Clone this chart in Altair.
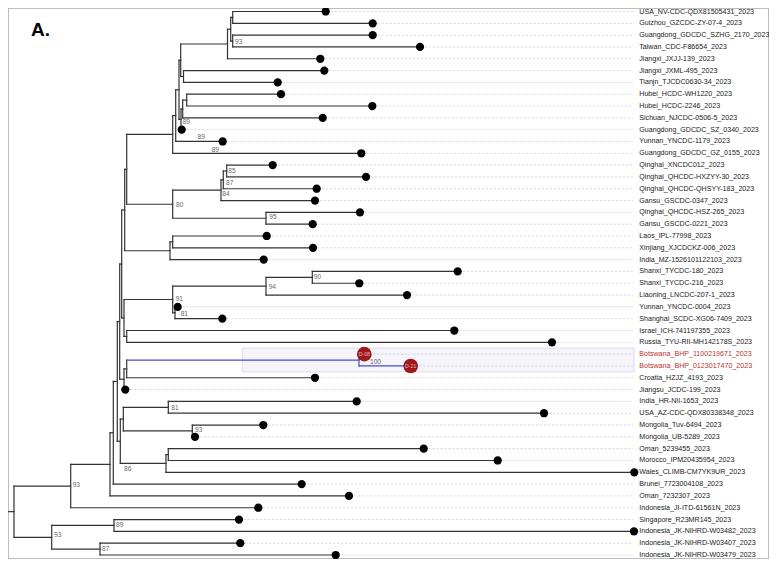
import altair as alt
import pandas as pd

# ---------------- data ----------------
tip_names = [
    "USA_NV-CDC-QDX81505431_2023", "Guizhou_GZCDC-ZY-07-4_2023", "Guangdong_GDCDC_SZHG_2170_2023",
    "Taiwan_CDC-F86654_2023", "Jiangxi_JXJJ-139_2023", "Jiangxi_JXML-495_2023", "Tianjn_TJCDC0630-34_2023",
    "Hubei_HCDC-WH1220_2023", "Hubei_HCDC-2246_2023", "Sichuan_NJCDC-0506-5_2023",
    "Guangdong_GDCDC_SZ_0340_2023", "Yunnan_YNCDC-1179_2023", "Guangdong_GDCDC_GZ_0155_2023",
    "Qinghai_XNCDC012_2023", "Qinghai_QHCDC-HXZYY-30_2023", "Qinghai_QHCDC-QHSYY-183_2023",
    "Gansu_GSCDC-0347_2023", "Qinghai_QHCDC-HSZ-265_2023", "Gansu_GSCDC-0221_2023", "Laos_IPL-77998_2023",
    "Xinjiang_XJCDCKZ-006_2023", "India_MZ-1526101122103_2023", "Shanxi_TYCDC-180_2023",
    "Shanxi_TYCDC-216_2023", "Liaoning_LNCDC-207-1_2023", "Yunnan_YNCDC-0004_2023",
    "Shanghai_SCDC-XG06-7409_2023", "Israel_ICH-741197355_2023", "Russia_TYU-RII-MH142178S_2023",
    "Botswana_BHP_1100219671_2023", "Botswana_BHP_0123017470_2023", "Croatia_HZJZ_4193_2023",
    "Jiangsu_JCDC-199_2023", "India_HR-NII-1653_2023", "USA_AZ-CDC-QDX80338348_2023",
    "Mongolia_Tuv-6494_2023", "Mongolia_UB-5289_2023", "Oman_5239455_2023", "Morocco_IPM20435954_2023",
    "Wales_CLIMB-CM7YK9UR_2023", "Brunei_7723004108_2023", "Oman_7232307_2023",
    "Indonesia_JI-ITD-61561N_2023", "Singapore_R23MR145_2023", "Indonesia_JK-NIHRD-W03482_2023",
    "Indonesia_JK-NIHRD-W03407_2023", "Indonesia_JK-NIHRD-W03479_2023",
]
tip_x = [
    325.7, 372.7, 372.7, 420.0, 320.3, 324.3, 277.7, 281.0, 372.3, 322.7,
    181.7, 222.7, 361.3, 272.7, 366.0, 316.7, 315.0, 360.0, 312.7, 266.7,
    313.0, 263.7, 457.7, 359.3, 407.0, 177.7, 222.3, 454.3, 552.0, 364.3,
    410.7, 315.0, 125.3, 356.7, 544.0, 263.3, 195.0, 423.7, 497.7, 634.3,
    301.7, 349.0, 258.3, 239.0, 634.0, 240.3, 335.7,
]
highlight_tips = ["Botswana_BHP_1100219671_2023", "Botswana_BHP_0123017470_2023"]
highlight_tags = ["D-08", "D-21"]

# internal nodes: (name, x position, children)
nodes = [
    ("n12", 232.7, ["t0", "t1"]), ("n34", 232.7, ["t2", "t3"]), ("n1234", 230.7, ["n12", "n34"]),
    ("nA", 227.5, ["n1234", "t4"]), ("nC", 183.5, ["t5", "t6"]), ("nB", 180.7, ["nA", "nC"]),
    ("nHub", 186.7, ["t7", "t8"]), ("nHS", 182.7, ["nHub", "t9"]), ("nHSS", 181.0, ["nHS", "t10"]),
    ("nE", 179.0, ["nB", "nHSS"]), ("nF", 175.7, ["nE", "t11"]), ("nG", 172.7, ["nF", "t12"]),
    ("nQ1", 226.7, ["t13", "t14"]), ("nQ2", 223.3, ["nQ1", "t15"]), ("nQ3", 221.0, ["nQ2", "t16"]),
    ("n95", 266.0, ["t17", "t18"]), ("n80", 172.7, ["nQ3", "n95"]), ("nH", 126.7, ["nG", "n80"]),
    ("nLX", 172.7, ["t19", "t20"]), ("nLXI", 170.0, ["nLX", "t21"]), ("nI", 124.7, ["nH", "nLXI"]),
    ("n90", 312.3, ["t22", "t23"]), ("n94", 266.0, ["n90", "t24"]), ("n81b", 175.0, ["t25", "t26"]),
    ("n91", 172.7, ["n94", "n81b"]), ("nIR", 126.7, ["t27", "t28"]), ("nJ", 124.0, ["n91", "nIR"]),
    ("nK", 121.7, ["nI", "nJ"]), ("nBots", 359.0, ["t29", "t30"]), ("nBC", 126.7, ["nBots", "t31"]),
    ("nBCJ", 124.0, ["nBC", "t32"]), ("nL", 119.7, ["nK", "nBCJ"]), ("n81", 168.3, ["t33", "t34"]),
    ("nMon", 192.3, ["t35", "t36"]), ("nIM", 123.3, ["n81", "nMon"]), ("nOM", 168.3, ["t37", "t38"]),
    ("nOMW", 166.0, ["nOM", "t39"]), ("n86", 120.3, ["nIM", "nOMW"]), ("nZ", 117.3, ["nL", "n86"]),
    ("nY", 113.3, ["nZ", "t40"]), ("nX", 110.0, ["nY", "t41"]), ("n93a", 70.7, ["nX", "t42"]),
    ("n89b", 114.0, ["t43", "t44"]), ("n87", 100.0, ["t45", "t46"]), ("n93b", 51.7, ["n89b", "n87"]),
    ("root", 14.0, ["n93a", "n93b"]),
]
blue_nodes = ["nBots"]

# support values: (anchor node, text, dx px, dy px)
supports = [
    ("n34", "93", 2.3, 1.3), ("nHSS", "89", 1.7, 3.0), ("t11", "89", -25.2, -5.0),
    ("nG", "89", 39.0, 15.6), ("nQ1", "85", 1.6, 0.4), ("nQ2", "87", 2.7, 3.0),
    ("nQ3", "84", 1.3, 3.4), ("n95", "95", 3.3, -0.8), ("n80", "80", 3.3, 0.3),
    ("n90", "90", 1.4, 0.0), ("n94", "94", 2.7, 0.3), ("n91", "91", 3.0, -0.7),
    ("n81b", "81", 5.7, 1.5), ("nBots", "100", 11.0, 2.0), ("n81", "81", 3.0, 0.7),
    ("nMon", "93", 2.7, -0.8), ("n86", "86", 3.7, 28.0), ("n93a", "93", 2.0, -0.9),
    ("n93b", "93", 2.3, -1.9), ("n89b", "89", 2.0, -0.3), ("n87", "87", 2.0, 0.2),
]

# ---------------- layout computation ----------------
ROW = 11.9  # reference pixel spacing between tips
pos = {}
for i, x in enumerate(tip_x):
    pos[f"t{i}"] = (x, float(i))
for name, x, ch in nodes:
    ys = [pos[c][1] for c in ch]
    pos[name] = (x, (ys[0] + ys[-1]) / 2)

BLACK_LINE = "#333333"
BLUE_LINE = "#4a4ad8"
edges = []
for name, x, ch in nodes:
    ys = [pos[c][1] for c in ch]
    col = BLUE_LINE if name in blue_nodes else BLACK_LINE
    edges.append(dict(x=x, x2=x, y=ys[0], y2=ys[-1], c=col))
    for c in ch:
        cx, cy = pos[c]
        ccol = BLUE_LINE if (c in blue_nodes or name in blue_nodes) else BLACK_LINE
        edges.append(dict(x=x, x2=cx, y=cy, y2=cy, c=ccol))
rx, ry = pos["root"]
edges.append(dict(x=rx - 6, x2=rx, y=ry, y2=ry, c=BLACK_LINE))
edges_df = pd.DataFrame(edges)

LABEL_X = 639.3
GUIDE_END = 633.0
tips = []
for i, (n, x) in enumerate(zip(tip_names, tip_x)):
    hl = n in highlight_tips
    tips.append(dict(name=n, x=x, y=float(i), hl=hl,
                     lc="#b5352e" if hl else "#1a1a1a",
                     gx=x + (8.5 if hl else 4.7), gx2=GUIDE_END, lx=LABEL_X,
                     tag=highlight_tags[highlight_tips.index(n)] if hl else ""))
tips_df = pd.DataFrame(tips)
guide_df = tips_df[tips_df.gx < tips_df.gx2]
black_df = tips_df[~tips_df.hl]
red_df = tips_df[tips_df.hl]

sup_df = pd.DataFrame([
    dict(t=t, x=pos[a][0] + dx, y=pos[a][1] + dy / ROW) for a, t, dx, dy in supports
])

hl_idx = [tip_names.index(n) for n in highlight_tips]
rect_df = pd.DataFrame([dict(x=242.3, x2=634.0, y=min(hl_idx) - 0.51, y2=max(hl_idx) + 0.5)])

# ---------------- chart ----------------
W, H = 761, 551
xs = alt.Scale(domain=[8, 8 + W], nice=False, zero=False)
ys = alt.Scale(domain=[0, len(tip_names) - 1], range=[3.5, 547], nice=False, zero=False)
FONT = "Liberation Sans"

rect = alt.Chart(rect_df).mark_rect(fill="#f4f4fa", stroke="#d6d6dc", strokeWidth=0.8).encode(
    x=alt.X("x:Q", scale=xs, axis=None), x2="x2:Q",
    y=alt.Y("y:Q", scale=ys, axis=None), y2="y2:Q")

guides = alt.Chart(guide_df).mark_rule(color="#cfcfcf", strokeWidth=0.7, strokeDash=[2.5, 1.5]).encode(
    x=alt.X("gx:Q", scale=xs, axis=None), x2="gx2:Q",
    y=alt.Y("y:Q", scale=ys, axis=None))

branches = alt.Chart(edges_df).mark_rule(strokeWidth=1.2, strokeCap="square").encode(
    x=alt.X("x:Q", scale=xs, axis=None), x2="x2:Q",
    y=alt.Y("y:Q", scale=ys, axis=None), y2="y2:Q",
    color=alt.Color("c:N", scale=None))

dots = alt.Chart(black_df).mark_circle(color="#000000", opacity=1, size=68).encode(
    x=alt.X("x:Q", scale=xs, axis=None), y=alt.Y("y:Q", scale=ys, axis=None))

red_dots = alt.Chart(red_df).mark_circle(color="#9c1a1a", opacity=1, size=215).encode(
    x=alt.X("x:Q", scale=xs, axis=None), y=alt.Y("y:Q", scale=ys, axis=None))

red_tags = alt.Chart(red_df).mark_text(font=FONT, fontSize=5.2, color="#e9b5b5",
                                       align="center", baseline="middle").encode(
    x=alt.X("x:Q", scale=xs, axis=None), y=alt.Y("y:Q", scale=ys, axis=None), text="tag:N")

labels = alt.Chart(tips_df).mark_text(font=FONT, fontSize=7.1, align="left", baseline="middle").encode(
    x=alt.X("lx:Q", scale=xs, axis=None), y=alt.Y("y:Q", scale=ys, axis=None), text="name:N",
    color=alt.Color("lc:N", scale=None))

sup_text = alt.Chart(sup_df).mark_text(font=FONT, fontSize=6.6, color="#6a6a6a",
                                       align="left", baseline="middle").encode(
    x=alt.X("x:Q", scale=xs, axis=None), y=alt.Y("y:Q", scale=ys, axis=None), text="t:N")

panel = alt.Chart(pd.DataFrame([dict(t="A.")])).mark_text(
    font=FONT, fontSize=19, fontWeight="bold", color="#000000", align="left", baseline="alphabetic"
).encode(x=alt.value(23), y=alt.value(28), text="t:N")

chart = alt.layer(rect, guides, branches, dots, red_dots, red_tags, labels, sup_text, panel).properties(
    width=W, height=H, padding=0, autosize=alt.AutoSizeParams(type="none")
).configure_view(stroke="#a8a8a8", strokeWidth=1.5)

chart.save("out.html", embed_options={"renderer": "svg", "actions": False})
